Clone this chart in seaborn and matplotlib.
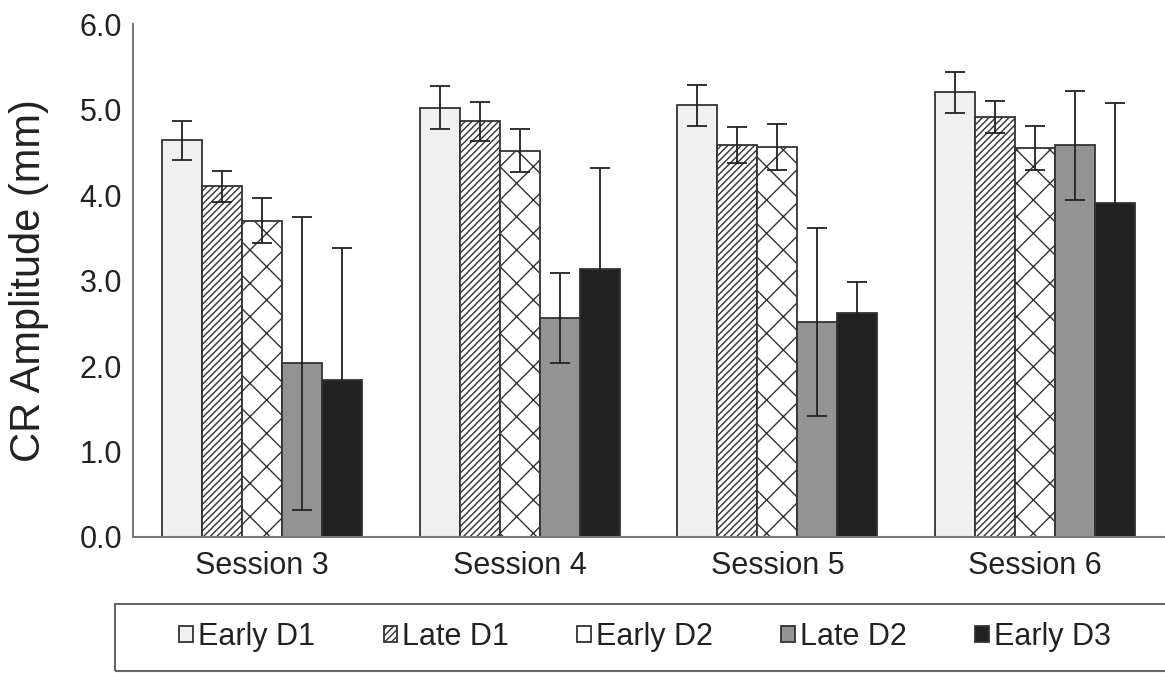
import numpy as np
import pandas as pd
import matplotlib
matplotlib.use('Agg')
import matplotlib.pyplot as plt
import seaborn as sns
from matplotlib.patches import Rectangle

# 데이터
sessions = ['Session 3', 'Session 4', 'Session 5', 'Session 6']
conditions = ['Early D1', 'Late D1', 'Early D2', 'Late D2', 'Early D3']

early_d1 = [4.64, 5.02, 5.05, 5.20]
late_d1 = [4.10, 4.86, 4.58, 4.91]
early_d2 = [3.70, 4.52, 4.56, 4.55]
late_d2 = [2.03, 2.56, 2.51, 4.58]
early_d3 = [1.84, 3.13, 2.62, 3.91]

err_early_d1 = [0.23, 0.25, 0.24, 0.24]
err_late_d1 = [0.18, 0.23, 0.21, 0.19]
err_early_d2 = [0.26, 0.25, 0.27, 0.26]
err_late_d2 = [1.71, 0.53, 1.10, 0.64]
err_early_d3 = [1.54, 1.19, 0.36, 1.17]

means = [early_d1, late_d1, early_d2, late_d2, early_d3]
errs = [err_early_d1, err_late_d1, err_early_d2, err_late_d2, err_early_d3]

df = pd.DataFrame({
    'session': np.tile(sessions, len(conditions)),
    'cond': np.repeat(conditions, len(sessions)),
    'amp': np.concatenate(means),
    'err': np.concatenate(errs),
})

colors = ['#f0f0f0', '#ffffff', '#ffffff', '#939393', '#222222']
hatches = ['', '/////', 'x', '', '']

sns.set_style('white')
plt.rcParams['font.family'] = ['Liberation Sans', 'DejaVu Sans']
plt.rcParams['hatch.linewidth'] = 1.0
plt.rcParams['text.color'] = '#222222'

fig = plt.figure(figsize=(11.65, 6.73), dpi=100)
ax = fig.add_axes([133 / 1165, 1 - 537 / 673, 1031 / 1165, 513 / 673])

sns.barplot(data=df, x='session', y='amp', hue='cond', order=sessions,
            hue_order=conditions, palette=colors, errorbar=None,
            width=0.775, edgecolor='#333333', linewidth=1.3, ax=ax,
            saturation=1)

# 해칭 + 에러바
for cont, h, e in zip(ax.containers, hatches, errs):
    xs = []
    ys = []
    for bar in cont.patches:
        bar.set_hatch(h)
        xs.append(bar.get_x() + bar.get_width() / 2)
        ys.append(bar.get_height())
    ax.errorbar(xs, ys, yerr=e, fmt='none', ecolor='#222222',
                elinewidth=1.3, capsize=7, capthick=1.3, zorder=5)

ax.set_xlim(-0.5, 3.5)
ax.set_ylim(0, 6)
ax.set_yticks(np.arange(0, 6.1, 1.0))
ax.set_yticklabels([f'{v:.1f}' for v in np.arange(0, 6.1, 1.0)])
ax.tick_params(axis='both', length=0, labelsize=22, labelcolor='#222222')
ax.tick_params(axis='y', pad=8)
ax.tick_params(axis='x', pad=10)
ax.set_xlabel('')
ax.set_ylabel('CR Amplitude (mm)', fontsize=30, color='#222222')
ax.yaxis.set_label_coords(-0.081, 0.5)

sns.despine(ax=ax)
for s in ['left', 'bottom']:
    ax.spines[s].set_color('#7a7a7a')
    ax.spines[s].set_linewidth(1.5)

ax.get_legend().remove()
leg = fig.legend(ax.containers, conditions, loc='center',
                 bbox_to_anchor=(645 / 1165, 1 - 637 / 673), ncol=5,
                 frameon=False, fontsize=22, handlelength=0.45,
                 handleheight=0.45, handletextpad=0.15, columnspacing=2.25)

# 범례 테두리
fig.patches.append(Rectangle((115 / 1165, 2 / 673), 1060 / 1165, 67 / 673,
                             transform=fig.transFigure, fill=False,
                             edgecolor='#666666', linewidth=1.5))

fig.savefig('out.png', dpi=100)
